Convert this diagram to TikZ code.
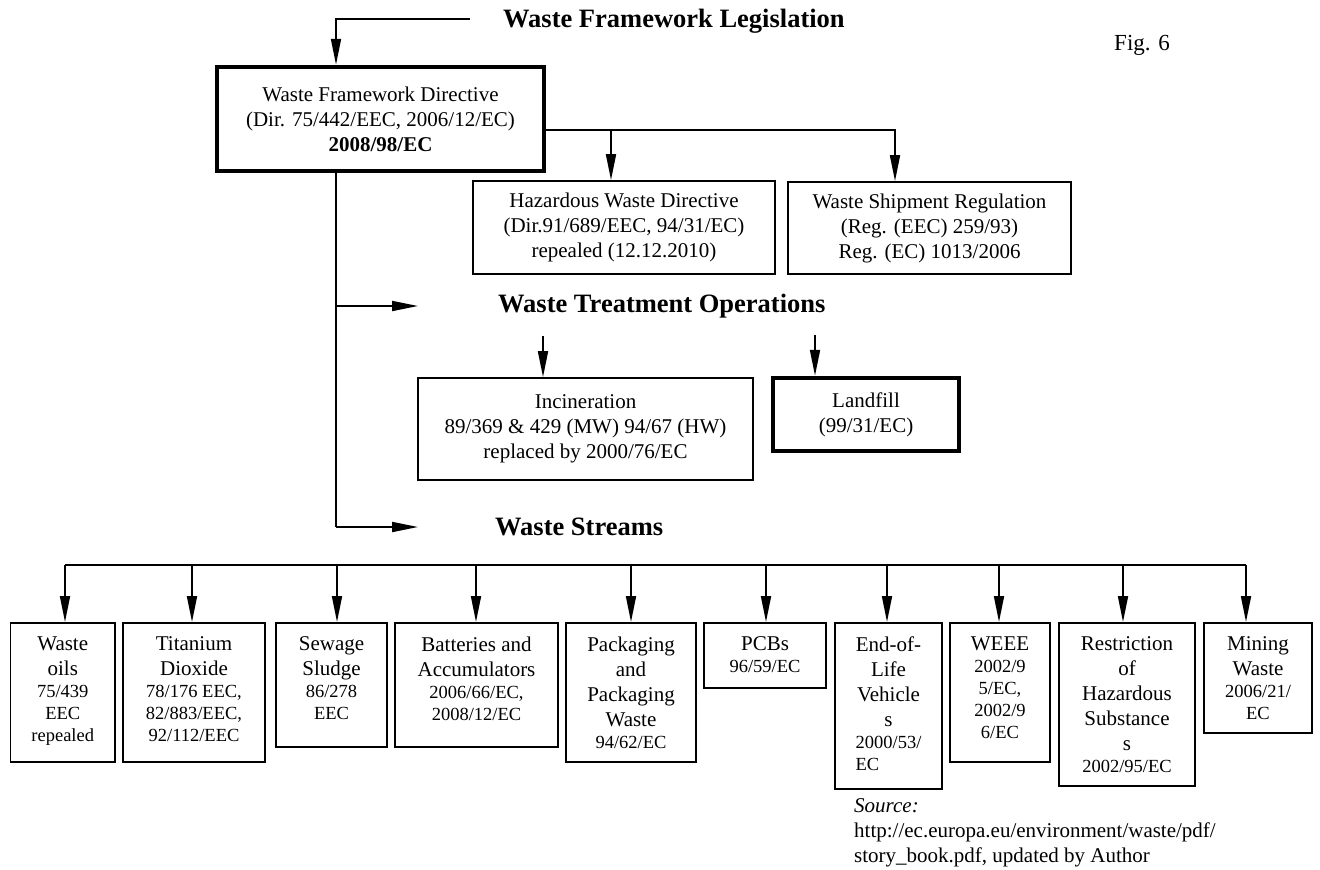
\documentclass[tikz,border=0pt]{standalone}
\usepackage{fontspec}
\setmainfont{Liberation Serif}
\usetikzlibrary{arrows.meta,calc}

\newcommand{\bigt}{\fontsize{21}{25}\selectfont}
\newcommand{\cds}{\fontsize{18.5}{22}\selectfont}
\newcommand{\stream}[3]{\parbox[c][#2pt][t]{#1pt}{\centering\vspace*{14pt}#3}}

\begin{document}
\begin{tikzpicture}[x=1pt,y=-1pt,
    box/.style={draw,line width=1.8pt,inner sep=0pt,align=center,font=\bigt},
    tbox/.style={box,line width=4.5pt},
    sbox/.style={draw,line width=1.8pt,inner sep=0pt,anchor=north,font=\bigt},
    head/.style={inner sep=0pt,anchor=west,font=\fontsize{26.5}{30}\selectfont\bfseries},
    arr/.style={-{Triangle[length=26pt,width=10pt]},line width=1.8pt}]
    \useasboundingbox (0,0) rectangle (1320,870);

    % framework legislation
    \node[head] (wfl) at (503,21) {Waste Framework Legislation};
    \node[font=\fontsize{23}{27}\selectfont] (fig) at (1142,45) {Fig. 6};
    \node[tbox,minimum width=327pt,minimum height=104pt] (wfd) at (380.5,119)
        {Waste Framework Directive\\(Dir. 75/442/EEC, 2006/12/EC)\\\textbf{2008/98/EC}};
    \node[box,minimum width=302pt,minimum height=93pt] (haz) at (624,227.5)
        {Hazardous Waste Directive\\(Dir.91/689/EEC, 94/31/EC)\\repealed (12.12.2010)};
    \node[box,minimum width=283pt,minimum height=92pt] (wsr) at (929.5,228)
        {Waste Shipment Regulation\\(Reg. (EEC) 259/93)\\Reg. (EC) 1013/2006};

    \coordinate (tl) at (470,19);
    \coordinate (tr) at (336,171);
    \draw[arr] (tl) -| (tr |- wfd.north);
    \coordinate (br) at ($(wfd.east)+(0,11)$);
    \draw[arr] (br) -| ([xshift=-13pt]haz.north);
    \draw[arr] (br) -| ([xshift=-34.5pt]wsr.north);

    % treatment operations
    \node[head] (wto) at (498,306) {Waste Treatment Operations};
    \node[box,minimum width=335pt,minimum height=102pt] (inc) at (585.5,429)
        {Incineration\\89/369 \& 429 (MW) 94/67 (HW)\\replaced by 2000/76/EC};
    \node[tbox,minimum width=186pt,minimum height=73pt] (lf) at (866,414.5)
        {Landfill\\(99/31/EC)};
    \draw[arr] ([xshift=-42.5pt,yshift=41pt]inc.north) -- ([xshift=-42.5pt]inc.north);
    \draw[arr] ([xshift=-51pt,yshift=41pt]lf.north) -- ([xshift=-51pt]lf.north);

    % waste streams
    \node[head] (wst) at (495,527) {Waste Streams};
    \draw[line width=1.3pt] (tr |- wfd.south) -- (tr |- wst.west);
    \draw[arr] (tr |- wto.west) -- ++(82,0);
    \draw[arr] (tr |- wst.west) -- ++(82,0);

    \node[sbox] (oil) at (62.75,622) {\stream{104.5}{139}{Waste\\oils\par
        {\cds 75/439\\EEC\\repealed\par}}};
    \node[sbox] (tio) at (194,622) {\stream{142}{139}{Titanium\\Dioxide\par
        {\cds 78/176 EEC,\\82/883/EEC,\\92/112/EEC\par}}};
    \node[sbox] (sew) at (331.5,622) {\stream{111}{124}{Sewage\\Sludge\par
        {\cds 86/278\\EEC\par}}};
    \node[sbox] (bat) at (476.5,622) {\stream{163}{124}{Batteries and\\Accumulators\par
        {\cds 2006/66/EC,\\2008/12/EC\par}}};
    \node[sbox] (pkg) at (631,622) {\stream{130}{139}{Packaging\\and\\Packaging\\Waste\par
        {\cds 94/62/EC\par}}};
    \node[sbox] (pcb) at (765,622) {\stream{122}{65}{PCBs\par
        {\cds 96/59/EC\par}}};
    \node[sbox] (elv) at (888.5,622) {\stream{107}{166}{End-of-\\Life\\Vehicle\\s\par
        {\cds 2000/53/\\\leavevmode\rlap{EC}\phantom{2000/53/}\par}}};
    \node[sbox] (weee) at (1000,622) {\stream{100}{139}{WEEE\par
        {\cds 2002/9\\5/EC,\\2002/9\\6/EC\par}}};
    \node[sbox] (rohs) at (1127,622) {\stream{136}{163}{Restriction\\of\\Hazardous\\Substance\\s\par
        {\cds 2002/95/EC\par}}};
    \node[sbox] (min) at (1258,622) {\stream{108}{110}{Mining\\Waste\par
        {\cds 2006/21/\\EC\par}}};

    \draw[line width=1.8pt] ([xshift=2.25pt,yshift=57pt]oil.north) -- ([xshift=-12pt,yshift=57pt]min.north);
    \foreach \n/\d in {oil/2.25,tio/-2,sew/5.5,bat/-0.5,pkg/0,pcb/1,elv/-1.5,weee/-1,rohs/-4,min/-12}
        \draw[arr] ([xshift=\d pt,yshift=57pt]\n.north) -- ([xshift=\d pt]\n.north);

    \node[anchor=north west,inner sep=0pt,align=left,font=\bigt] (src) at (854,798)
        {\textit{Source:}\\http://ec.europa.eu/environment/waste/pdf/\\story\_book.pdf, updated by Author};
\end{tikzpicture}
\end{document}
